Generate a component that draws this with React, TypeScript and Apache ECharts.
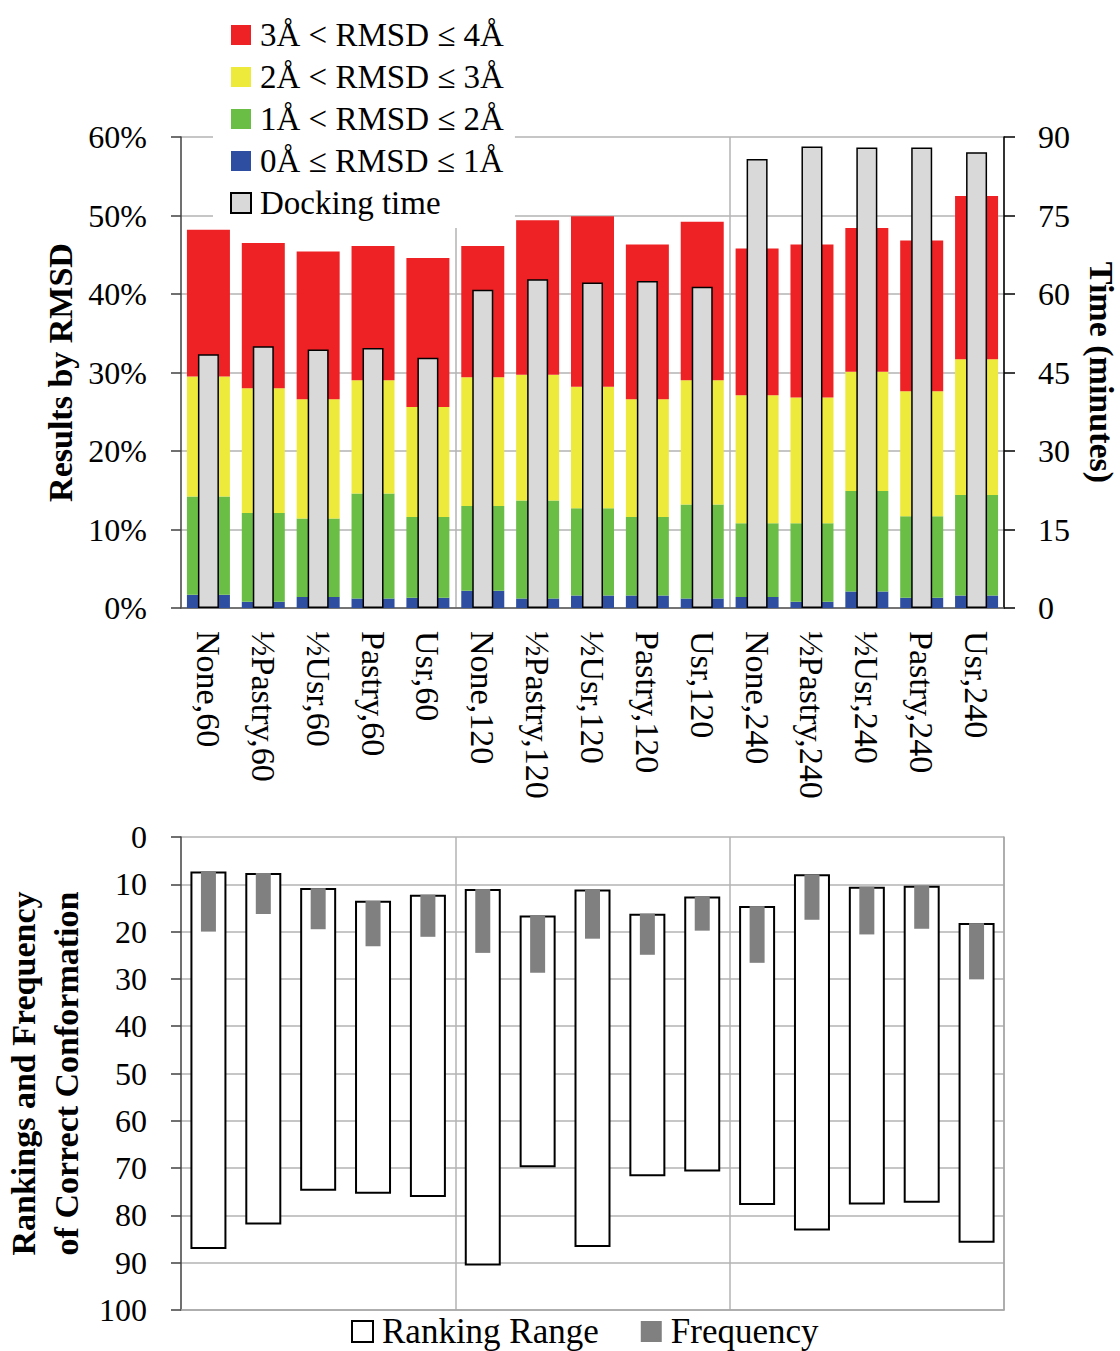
import React, { useEffect, useRef } from 'react';
import * as echarts from 'echarts';

const categories = [
  'None,60', '½Pastry,60', '½Usr,60', 'Pastry,60', 'Usr,60',
  'None,120', '½Pastry,120', '½Usr,120', 'Pastry,120', 'Usr,120',
  'None,240', '½Pastry,240', '½Usr,240', 'Pastry,240', 'Usr,240',
];

// Percent of results in each RMSD band (segment values, stacked)
const rmsd0to1 = [1.7, 0.8, 1.4, 1.2, 1.3, 2.2, 1.2, 1.6, 1.6, 1.2, 1.4, 0.8, 2.1, 1.3, 1.6];
const rmsd1to2 = [12.5, 11.3, 10.0, 13.4, 10.3, 10.8, 12.5, 11.1, 10.0, 12.0, 9.4, 10.0, 12.8, 10.4, 12.8];
const rmsd2to3 = [15.3, 15.9, 15.2, 14.4, 14.0, 16.4, 16.0, 15.5, 15.0, 15.8, 16.3, 16.0, 15.2, 15.9, 17.3];
const rmsd3to4 = [18.7, 18.5, 18.8, 17.1, 19.0, 16.7, 19.7, 21.7, 19.7, 20.2, 18.7, 19.5, 18.3, 19.2, 20.8];

// Docking time (minutes)
const dockingTime = [48.5, 50.0, 49.4, 49.7, 47.8, 60.8, 62.8, 62.2, 62.5, 61.4, 85.8, 88.2, 88.0, 88.0, 87.1];

// Ranking range of correct conformation (best / worst rank) and frequency
const rankBest = [7.3, 7.6, 10.8, 13.5, 12.2, 11.0, 16.6, 11.1, 16.2, 12.6, 14.6, 7.9, 10.5, 10.3, 18.2];
const rankWorst = [87.1, 81.9, 74.8, 75.4, 76.1, 90.6, 69.8, 86.7, 71.7, 70.7, 77.8, 83.2, 77.7, 77.3, 85.8];
const frequency = [12.7, 8.7, 8.7, 9.6, 8.9, 13.5, 12.1, 10.4, 8.7, 7.2, 12.0, 9.6, 10.1, 9.1, 11.9];

const leftTicksTop = [0, 60, 10];
const rightTicksTop = [0, 90, 15];
const ticksBottom = [0, 100, 10];

const N0 = '0Å ≤ RMSD ≤ 1Å';
const N1 = '1Å < RMSD ≤ 2Å';
const N2 = '2Å < RMSD ≤ 3Å';
const N3 = '3Å < RMSD ≤ 4Å';
const ND = 'Docking time';
const NR = 'Ranking Range';
const NF = 'Frequency';

export default function App() {
  const ref = useRef<HTMLDivElement>(null);
  useEffect(() => {
    document.body.style.margin = '0';
    const chart = echarts.init(ref.current!, null, { renderer: 'svg' });
    const font = 'Liberation Serif';
    const rangeLen = rankWorst.map((w, i) => +(w - rankBest[i]).toFixed(1));
    const gridGray = '#b3b3b3';
    const splitX = (i: number) => i % 5 === 0 && i > 0;
    const labelStyle = { color: '#000', fontFamily: font, fontSize: 32 };
    const nameStyle = { color: '#000', fontFamily: font, fontSize: 34, fontWeight: 'bold' };

    const option: any = {
      animation: false,
      textStyle: { fontFamily: font, color: '#000' },
      grid: [
        { left: 181, right: 116, top: 137, height: 471, outerBoundsMode: 'none', containLabel: false },
        { left: 181, right: 116, top: 837, height: 473, outerBoundsMode: 'none', containLabel: false },
      ],
      legend: [
        {
          data: [N3, N2, N1, N0, ND],
          orient: 'vertical',
          left: 213,
          top: 0,
          padding: [18, 11, 8, 17],
          backgroundColor: '#fff',
          itemWidth: 20,
          itemHeight: 20,
          itemGap: 8,
          icon: 'rect',
          z: 10,
          selectedMode: false,
          textStyle: { fontSize: 33, lineHeight: 34, fontFamily: font, color: '#000', padding: [0, 0, 0, 4] },
        },
        {
          data: [NR, NF],
          orient: 'horizontal',
          left: 351,
          top: 1314,
          padding: 0,
          itemWidth: 21,
          itemHeight: 21,
          itemGap: 42,
          icon: 'rect',
          selectedMode: false,
          textStyle: { fontSize: 35, lineHeight: 35, fontFamily: font, color: '#000', padding: [0, 0, 0, 4] },
        },
      ],
      xAxis: [
        {
          type: 'category', gridIndex: 0, data: categories,
          axisLine: { lineStyle: { color: '#595959', width: 1.5 } },
          axisTick: { show: false },
          axisLabel: { rotate: -90, margin: 23, interval: 0, color: '#000', fontFamily: font, fontSize: 34 },
          splitLine: { show: true, interval: splitX, lineStyle: { color: gridGray, width: 1.5 } },
        },
        { type: 'category', gridIndex: 0, data: categories, show: false },
        {
          type: 'category', gridIndex: 1, data: categories, position: 'bottom',
          axisLine: { onZero: false, lineStyle: { color: '#a6a6a6', width: 1.5 } },
          axisTick: { show: false },
          axisLabel: { show: false },
          splitLine: { show: true, interval: splitX, lineStyle: { color: gridGray, width: 1.5 } },
        },
        { type: 'category', gridIndex: 1, data: categories, show: false, position: 'bottom' },
      ],
      yAxis: [
        {
          type: 'value', gridIndex: 0, min: leftTicksTop[0], max: leftTicksTop[1], interval: leftTicksTop[2],
          name: 'Results by RMSD', nameLocation: 'middle', nameRotate: 90, nameGap: 104, nameTextStyle: nameStyle,
          axisLine: { show: true, lineStyle: { color: '#404040', width: 1.5 } },
          axisTick: { show: true, length: 10, lineStyle: { color: '#404040', width: 1.5 } },
          axisLabel: { ...labelStyle, margin: 34, formatter: '{value}%' },
          splitLine: { show: true, lineStyle: { color: gridGray, width: 1.5 } },
        },
        {
          type: 'value', gridIndex: 0, position: 'right', min: rightTicksTop[0], max: rightTicksTop[1], interval: rightTicksTop[2],
          name: 'Time (minutes)', nameLocation: 'middle', nameRotate: -90, nameGap: 80, nameTextStyle: nameStyle,
          axisLine: { show: true, lineStyle: { color: '#000', width: 1.5 } },
          axisTick: { show: true, length: 11, lineStyle: { color: '#000', width: 1.5 } },
          axisLabel: { ...labelStyle, margin: 34 },
          splitLine: { show: false },
        },
        {
          type: 'value', gridIndex: 1, inverse: true, min: ticksBottom[0], max: ticksBottom[1], interval: ticksBottom[2],
          name: 'Rankings and Frequency\nof Correct Conformation', nameLocation: 'middle', nameRotate: 90, nameGap: 92,
          nameTextStyle: { ...nameStyle, lineHeight: 43 },
          axisLine: { show: true, lineStyle: { color: '#404040', width: 1.5 } },
          axisTick: { show: true, length: 10, lineStyle: { color: '#404040', width: 1.5 } },
          axisLabel: { ...labelStyle, margin: 34 },
          splitLine: { show: true, lineStyle: { color: gridGray, width: 1.5 } },
        },
        {
          type: 'value', gridIndex: 1, position: 'right', inverse: true, min: ticksBottom[0], max: ticksBottom[1], interval: ticksBottom[2],
          axisLine: { show: true, lineStyle: { color: '#a6a6a6', width: 1.5 } },
          axisTick: { show: false }, axisLabel: { show: false }, splitLine: { show: false },
        },
      ],
      series: [
        { name: N0, type: 'bar', stack: 'rmsd', xAxisIndex: 0, yAxisIndex: 0, barWidth: 43, data: rmsd0to1, itemStyle: { color: '#2e4ea1' } },
        { name: N1, type: 'bar', stack: 'rmsd', xAxisIndex: 0, yAxisIndex: 0, barWidth: 43, data: rmsd1to2, itemStyle: { color: '#6bbe45' } },
        { name: N2, type: 'bar', stack: 'rmsd', xAxisIndex: 0, yAxisIndex: 0, barWidth: 43, data: rmsd2to3, itemStyle: { color: '#eeea3c' } },
        { name: N3, type: 'bar', stack: 'rmsd', xAxisIndex: 0, yAxisIndex: 0, barWidth: 43, data: rmsd3to4, itemStyle: { color: '#ee2224' } },
        {
          name: ND, type: 'bar', xAxisIndex: 1, yAxisIndex: 1, barWidth: 21, z: 3, data: dockingTime,
          itemStyle: { color: '#d9d9d9', borderColor: '#000', borderWidth: 1.5 },
        },
        {
          name: 'rankBase', type: 'bar', stack: 'range', xAxisIndex: 2, yAxisIndex: 2, barWidth: 36, silent: true,
          data: rankBest, itemStyle: { color: 'rgba(0,0,0,0)' },
        },
        {
          name: NR, type: 'bar', stack: 'range', xAxisIndex: 2, yAxisIndex: 2, barWidth: 36, data: rangeLen,
          itemStyle: { color: '#fff', borderColor: '#000', borderWidth: 2 },
        },
        {
          name: 'freqBase', type: 'bar', stack: 'freq', xAxisIndex: 3, yAxisIndex: 2, barWidth: 15, silent: true, z: 3,
          data: rankBest, itemStyle: { color: 'rgba(0,0,0,0)' },
        },
        {
          name: NF, type: 'bar', stack: 'freq', xAxisIndex: 3, yAxisIndex: 2, barWidth: 15, z: 3, data: frequency,
          itemStyle: { color: '#808080' },
        },
      ],
    };
    chart.setOption(option);
    return () => chart.dispose();
  }, []);
  return <div ref={ref} style={{ width: 1120, height: 1351 }} />;
}
